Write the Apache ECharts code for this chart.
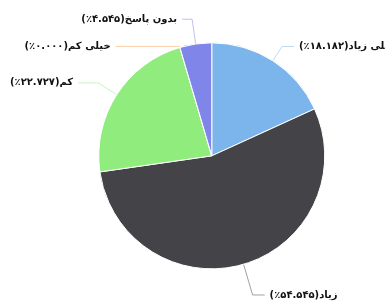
<!DOCTYPE html>
<html>
<head>
<meta charset="utf-8">
<script src="https://cdn.jsdelivr.net/npm/echarts@6/dist/echarts.min.js"></script>
<style>
  html, body { margin: 0; padding: 0; background: #fff; }
  #chart { width: 385px; height: 308px; }
</style>
</head>
<body>
<div id="chart"></div>
<script>
// categories and shares (percent)
const categories = ["خیلی زیاد", "زیاد", "کم", "خیلی کم", "بدون پاسخ"];
const percentLabels = ["۱۸.۱۸۲", "۵۴.۵۴۵", "۲۲.۷۲۷", "۰.۰۰۰", "۴.۵۴۵"];
const values = [18.182, 54.545, 22.727, 0, 4.545];
const colors = ["#7cb5ec", "#434348", "#90ed7d", "#f7a35c", "#8085e9"];
// connector lengths per slice [radial, horizontal]
const lineLengths = [[17, 12], [32, 12], [22, 20], [1, 64], [25, 10]];

var myChart = echarts.init(document.getElementById("chart"));

myChart.setOption({
  animation: false,
  color: colors,
  series: [
    {
      type: "pie",
      center: ["55%", "50.6%"],
      radius: 113,
      startAngle: 90,
      clockwise: true,
      avoidLabelOverlap: false,
      itemStyle: {
        borderColor: "#fff",
        borderWidth: 1
      },
      label: {
        show: true,
        color: "#111",
        fontSize: 10,
        fontWeight: "bold",
        fontFamily: "DejaVu Sans",
        // written in visual order so the canvas shows "(%..)name"
        formatter: (p) => "(٪" + percentLabels[p.dataIndex] + ")" + p.name
      },
      labelLine: {
        show: true,
        lineStyle: { width: 1, opacity: 0.5 }
      },
      data: categories.map((name, i) => ({
        name: name,
        value: values[i],
        labelLine: { length: lineLengths[i][0], length2: lineLengths[i][1] }
      }))
    }
  ]
});
</script>
</body>
</html>
